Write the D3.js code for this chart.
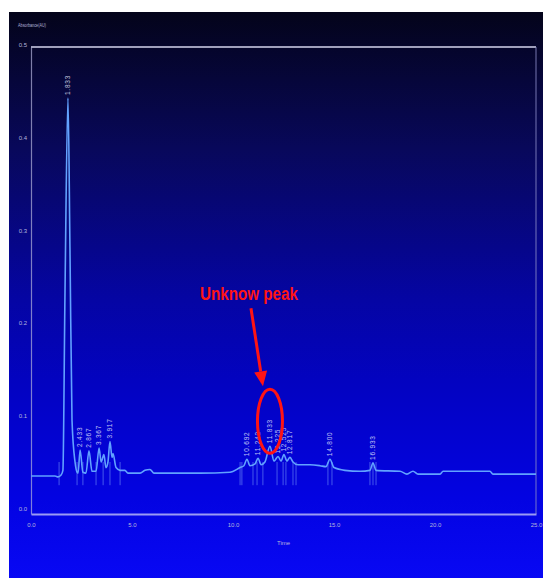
<!DOCTYPE html>
<html>
<head>
<meta charset="utf-8">
<script src="https://cdn.jsdelivr.net/npm/d3@7/dist/d3.min.js"></script>
<style>
  html, body { margin: 0; padding: 0; background: #ffffff; }
  svg { display: block; }
  .tick text { font-family: "Liberation Sans", Arial, sans-serif; }
</style>
</head>
<body>
<svg id="chart" width="543" height="578"></svg>
<script>
// Chromatogram trace: retention time (min) and absorbance (AU)
const traceTime = [0.00, 1.19, 1.34, 1.49, 1.58, 1.68, 1.83, 1.93, 2.03, 2.18, 2.28,
  2.33, 2.43, 2.57, 2.72, 2.87, 3.02, 3.22, 3.37, 3.47, 3.61, 3.71, 3.81, 3.91, 4.01, 4.06,
  4.21, 4.41, 4.65, 4.80, 5.40, 5.64, 5.89, 6.09, 8.37, 9.85, 10.35, 10.54, 10.69, 10.84,
  11.09, 11.24, 11.39, 11.58, 11.83, 12.03, 12.23, 12.38, 12.52, 12.67, 12.82, 12.97, 13.22,
  13.81, 14.31, 14.60, 14.80, 15.00, 15.54, 16.29, 16.78, 16.93, 17.08, 18.27, 18.61, 18.91,
  19.16, 20.25, 20.40, 22.72, 22.87, 25.00];
const traceAbs = [0.038, 0.038, 0.037, 0.039, 0.044, 0.230, 0.445, 0.281, 0.098, 0.053, 0.042,
  0.041, 0.066, 0.042, 0.041, 0.065, 0.043, 0.043, 0.068, 0.053, 0.061, 0.047, 0.053, 0.075, 0.058, 0.062,
  0.047, 0.044, 0.044, 0.041, 0.041, 0.044, 0.045, 0.041, 0.041, 0.042, 0.047, 0.049, 0.056, 0.049,
  0.051, 0.057, 0.050, 0.053, 0.070, 0.054, 0.059, 0.054, 0.061, 0.054, 0.058, 0.053, 0.050,
  0.050, 0.049, 0.048, 0.056, 0.047, 0.044, 0.043, 0.044, 0.052, 0.044, 0.043, 0.040, 0.043,
  0.040, 0.040, 0.043, 0.043, 0.040, 0.040];

// Detected peaks (apex time and height) with their retention-time labels
const peakTime = [1.83, 2.43, 2.87, 3.37, 3.91, 10.69, 11.24, 11.83, 12.23, 12.52, 12.82, 14.80, 16.93];
const peakAbs  = [0.445, 0.066, 0.065, 0.068, 0.075, 0.056, 0.057, 0.070, 0.059, 0.061, 0.058, 0.056, 0.052];
const peakLabel = ["1.833", "2.433", "2.867", "3.367", "3.917", "10.692", "11.242", "11.833",
  "12.225", "12.525", "12.817", "14.800", "16.933"];

// Integration start/end markers
const eventTime = [1.39, 2.28, 2.57, 3.22, 3.57, 3.91, 4.41, 10.35, 10.44, 10.99, 11.19, 11.48,
  12.18, 12.48, 12.62, 12.97, 13.12, 14.70, 14.90, 16.78, 16.93, 17.08];

const yTicks = [0.0, 0.1, 0.2, 0.3, 0.4, 0.5];
const xTicks = [0, 5, 10, 15, 20, 25];
const yTitle = "Absorbance(AU)";
const xTitle = "Time";
const unknownPeakIndex = 7;
const annotationText = "Unknow peak";

const svg = d3.select("#chart");

// Background panel with a dark-to-bright blue vertical gradient
const defs = svg.append("defs");
const grad = defs.append("linearGradient").attr("id", "bg")
  .attr("x1", 0).attr("y1", 0).attr("x2", 0).attr("y2", 1);
[[0, "#04041a"], [0.24, "#08085a"], [0.51, "#0505a4"], [0.65, "#0303c0"],
 [0.86, "#0303e2"], [1, "#0808f4"]].forEach(([o, c]) =>
  grad.append("stop").attr("offset", o).attr("stop-color", c));

svg.append("rect").attr("x", 9).attr("y", 12).attr("width", 534).attr("height", 566)
  .attr("fill", "url(#bg)");

const x = d3.scaleLinear().domain([0, 25]).range([31, 536]);
const y = d3.scaleLinear().domain([-0.003, 0.5]).range([514, 47]);

const axisColor = "#b4b4dc";

// Frame: top and right edges
svg.append("line").attr("x1", x(0)).attr("x2", x(25)).attr("y1", y(0.5)).attr("y2", y(0.5))
  .attr("stroke", "#a0a0bc").attr("stroke-width", 2.2);
svg.append("line").attr("x1", x(25)).attr("x2", x(25)).attr("y1", y(0.5)).attr("y2", y(-0.003))
  .attr("stroke", "#8c8cc8").attr("stroke-width", 1.2).attr("opacity", 0.7);

// Left axis
const yAxis = svg.append("g").attr("transform", `translate(${x(0)},0)`)
  .call(d3.axisLeft(y).tickValues(yTicks).tickSize(0).tickPadding(4).tickFormat(d3.format(".1f")));
yAxis.select(".domain").attr("stroke", axisColor).attr("stroke-width", 1.2).attr("opacity", 0.7);
yAxis.selectAll("text").attr("fill", axisColor).attr("font-size", 6).attr("dy", "-0.1em");

// Bottom axis
const xAxis = svg.append("g").attr("transform", `translate(0,${y(-0.003)})`)
  .call(d3.axisBottom(x).tickValues(xTicks).tickSize(0).tickPadding(9).tickFormat(d3.format(".1f")));
xAxis.select(".domain").attr("stroke", "#9a9af4").attr("stroke-width", 2.2);
xAxis.selectAll("text").attr("fill", axisColor).attr("font-size", 6);

// Axis titles
svg.append("text").attr("x", 18).attr("y", 27).attr("fill", axisColor)
  .attr("font-family", "Liberation Sans, Arial, sans-serif").attr("font-size", 6)
  .attr("textLength", 28).attr("lengthAdjust", "spacingAndGlyphs").text(yTitle);
svg.append("text").attr("x", x(12.5)).attr("y", 545).attr("fill", axisColor)
  .attr("text-anchor", "middle")
  .attr("font-family", "Liberation Sans, Arial, sans-serif").attr("font-size", 6).text(xTitle);

// Integration markers
svg.append("g").selectAll("line").data(eventTime).join("line")
  .attr("x1", d => x(d)).attr("x2", d => x(d))
  .attr("y1", y(0.053)).attr("y2", y(0.028))
  .attr("stroke", "#8fb8ff").attr("stroke-width", 0.8).attr("opacity", 0.6);

// Chromatogram trace
const points = traceTime.map((t, i) => [t, traceAbs[i]]);
const line = d3.line().x(d => x(d[0])).y(d => y(d[1])).curve(d3.curveMonotoneX);
svg.append("path").datum(points).attr("d", line)
  .attr("fill", "none").attr("stroke", "#62a2ff").attr("stroke-width", 1.6)
  .attr("stroke-linejoin", "round");

// Peak retention-time labels, written vertically above each apex
svg.append("g").selectAll("text").data(peakTime).join("text")
  .attr("transform", (d, i) => `translate(${x(d) + 2},${y(peakAbs[i]) - 3}) rotate(-90)`)
  .attr("fill", "#e8ecff").attr("font-size", 6.5).attr("letter-spacing", 0.8)
  .attr("font-family", "Liberation Sans, Arial, sans-serif")
  .attr("opacity", 0.8)
  .text((d, i) => peakLabel[i]);

// Annotation for the unidentified peak
const red = "#ff1414";
const ux = x(peakTime[unknownPeakIndex]);
const uy = y(peakAbs[unknownPeakIndex]);
svg.append("ellipse").attr("cx", ux).attr("cy", uy - 25).attr("rx", 12.5).attr("ry", 32)
  .attr("fill", "none").attr("stroke", red).attr("stroke-width", 3);

const tip = [ux - 7, uy - 60];
const tail = [ux - 19, uy - 138];
const ang = Math.atan2(tip[1] - tail[1], tip[0] - tail[0]);
const headLen = 15, headW = 6.5;
const base = [tip[0] - headLen * Math.cos(ang), tip[1] - headLen * Math.sin(ang)];
svg.append("line").attr("x1", tail[0]).attr("y1", tail[1]).attr("x2", base[0]).attr("y2", base[1])
  .attr("stroke", red).attr("stroke-width", 3);
svg.append("polygon").attr("fill", red).attr("points", [
  tip,
  [base[0] - headW * Math.sin(ang), base[1] + headW * Math.cos(ang)],
  [base[0] + headW * Math.sin(ang), base[1] - headW * Math.cos(ang)]
].map(p => p.join(",")).join(" "));

svg.append("text").attr("x", ux - 21).attr("y", uy - 146).attr("text-anchor", "middle")
  .attr("fill", red).attr("font-weight", "bold")
  .attr("font-family", "Liberation Sans, Arial, sans-serif").attr("font-size", 18)
  .attr("textLength", 98).attr("lengthAdjust", "spacingAndGlyphs")
  .text(annotationText);
</script>
</body>
</html>
